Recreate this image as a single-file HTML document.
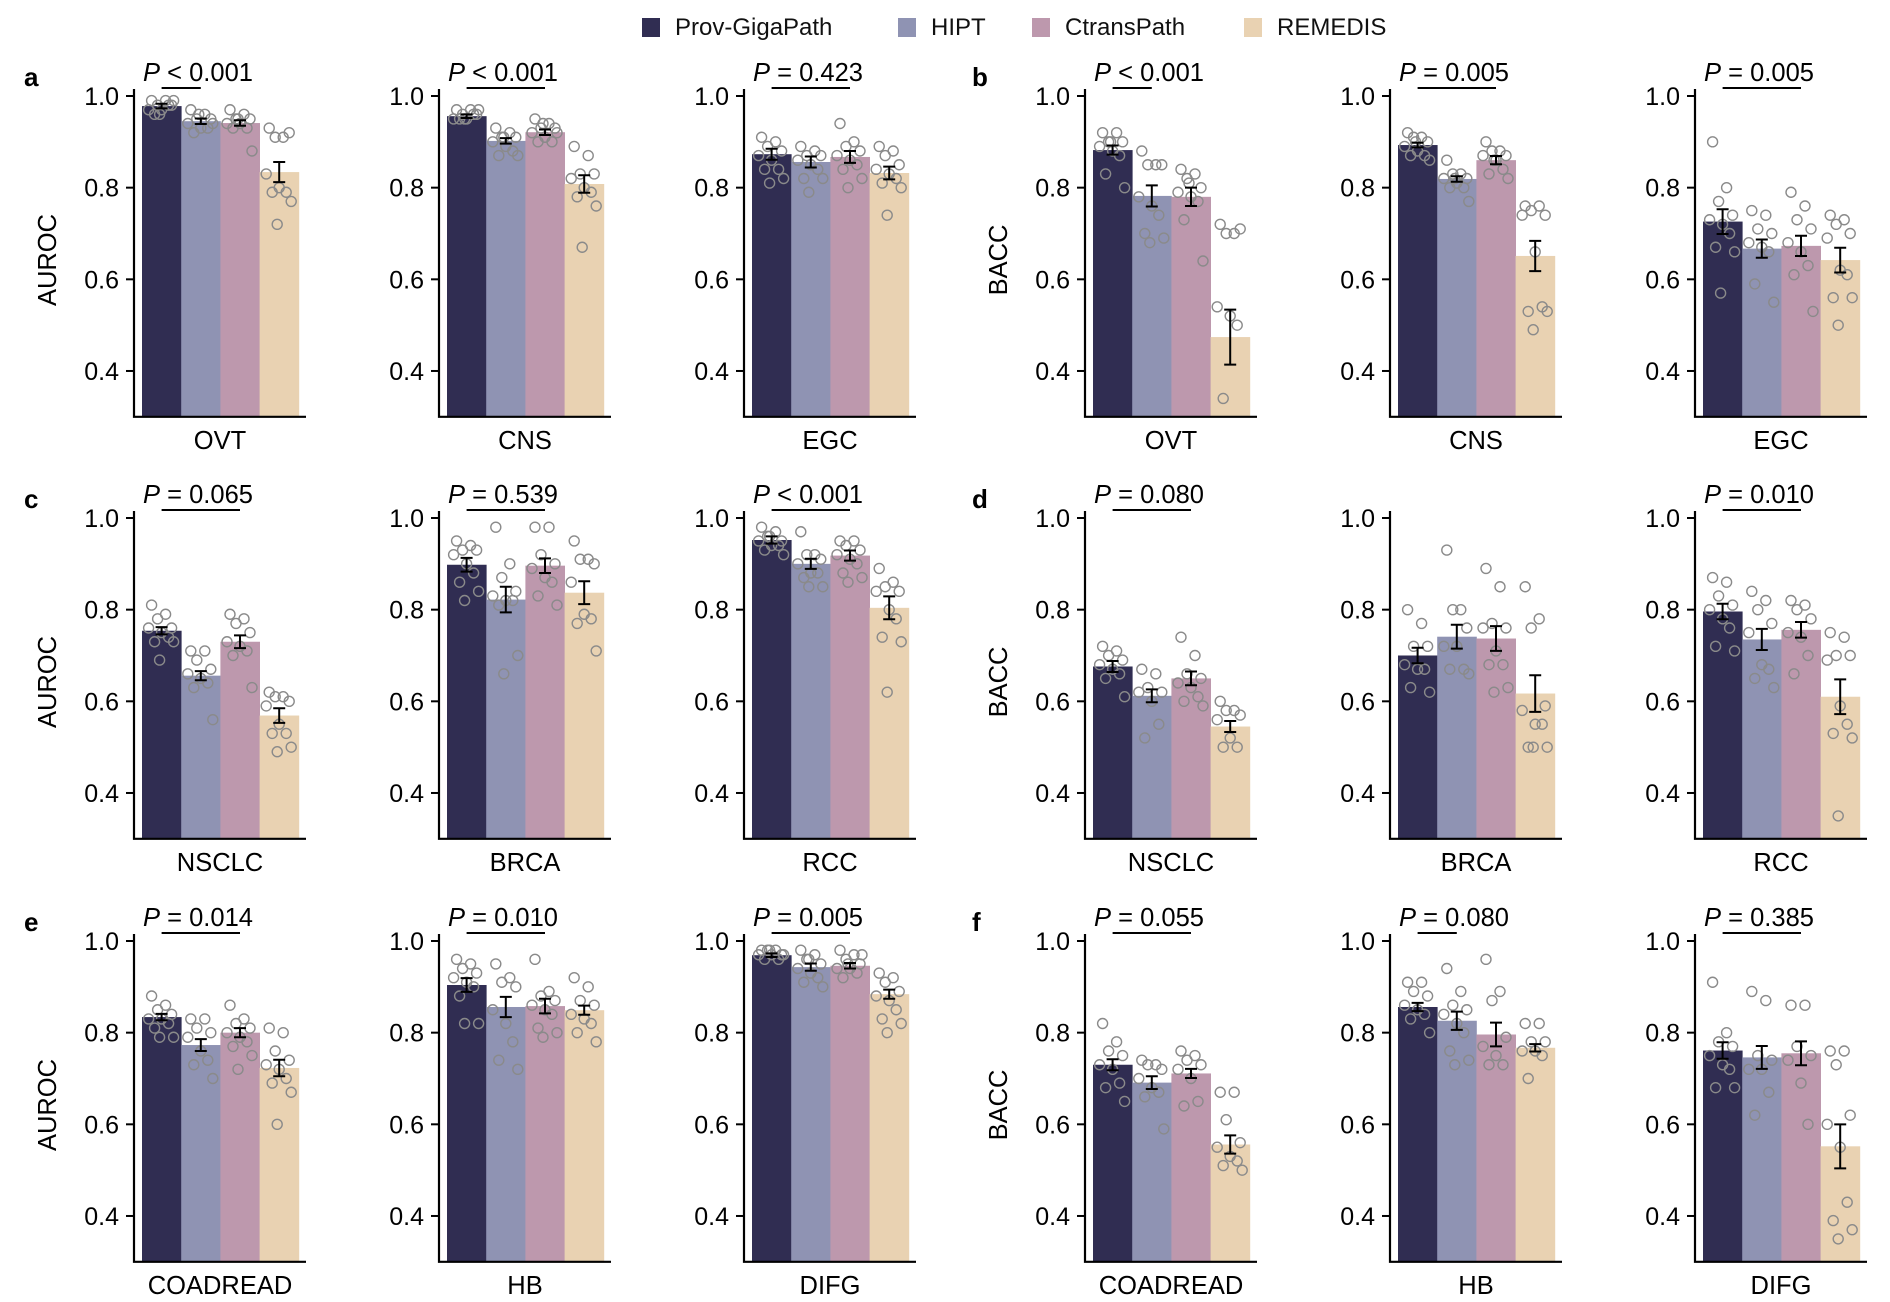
<!DOCTYPE html>
<html><head><meta charset="utf-8"><style>
html,body{margin:0;padding:0;background:#fff;}
svg{display:block;font-family:"Liberation Sans",Arial,sans-serif;}
</style></head><body>
<svg id="chart" width="1890" height="1302" viewBox="0 0 1890 1302">
<g id="legend"></g>
<g id="panels"></g>
</svg>
<script>
const models = ["Prov-GigaPath","HIPT","CtransPath","REMEDIS"];
const colors = ["#302d52","#8f93b3","#bd98ad","#e9d2b2"];
const tasks = ["OVT","CNS","EGC","OVT","CNS","EGC","NSCLC","BRCA","RCC","NSCLC","BRCA","RCC","COADREAD","HB","DIFG","COADREAD","HB","DIFG"];
const metrics = ["AUROC","AUROC","AUROC","BACC","BACC","BACC","AUROC","AUROC","AUROC","BACC","BACC","BACC","AUROC","AUROC","AUROC","BACC","BACC","BACC"];
const pvalues = ["< 0.001","< 0.001","= 0.423","< 0.001","= 0.005","= 0.005","= 0.065","= 0.539","< 0.001","= 0.080","","= 0.010","= 0.014","= 0.010","= 0.005","= 0.055","= 0.080","= 0.385"];
const pCompare = [1,2,2,1,2,2,2,2,2,2,0,2,2,2,2,2,1,2];
const panelLetters = {0:"a",3:"b",6:"c",9:"d",12:"e",15:"f"};
const means = [
 [0.978,0.945,0.941,0.834],[0.956,0.902,0.921,0.808],[0.873,0.856,0.867,0.832],
 [0.882,0.782,0.780,0.474],[0.893,0.819,0.860,0.651],[0.726,0.667,0.673,0.642],
 [0.754,0.656,0.730,0.569],[0.898,0.822,0.896,0.837],[0.952,0.900,0.918,0.804],
 [0.676,0.612,0.650,0.545],[0.700,0.741,0.737,0.617],[0.796,0.735,0.756,0.610],
 [0.834,0.773,0.800,0.723],[0.904,0.856,0.858,0.849],[0.969,0.943,0.946,0.884],
 [0.730,0.691,0.711,0.556],[0.856,0.826,0.796,0.767],[0.761,0.746,0.755,0.552]];
const errors = [
 [0.005,0.006,0.006,0.022],[0.004,0.006,0.006,0.019],[0.012,0.012,0.013,0.014],
 [0.010,0.023,0.020,0.060],[0.005,0.006,0.009,0.033],[0.027,0.020,0.022,0.027],
 [0.008,0.010,0.014,0.016],[0.015,0.028,0.016,0.025],[0.008,0.011,0.011,0.025],
 [0.012,0.014,0.015,0.012],[0.017,0.026,0.027,0.040],[0.017,0.023,0.017,0.038],
 [0.007,0.013,0.010,0.018],[0.015,0.022,0.016,0.010],[0.004,0.008,0.006,0.010],
 [0.012,0.014,0.010,0.020],[0.009,0.020,0.026,0.008],[0.018,0.025,0.026,0.048]];
const points = [
 [[.99,.99,.98,.98,.97,.97,.98,.96,.99,.96],[.97,.96,.95,.95,.94,.93,.93,.92,.94,.96],[.97,.96,.95,.95,.94,.94,.93,.93,.88,.95],[.93,.91,.91,.92,.83,.80,.79,.79,.77,.72]],
 [[.97,.97,.96,.96,.95,.95,.96,.95,.97,.95],[.93,.92,.91,.91,.90,.89,.88,.87,.87,.91],[.95,.94,.93,.93,.92,.91,.90,.90,.92,.94],[.89,.87,.83,.83,.82,.80,.79,.78,.76,.67]],
 [[.91,.90,.89,.88,.87,.86,.84,.84,.82,.81],[.89,.88,.87,.87,.86,.85,.84,.82,.82,.79],[.94,.90,.89,.88,.87,.86,.85,.84,.82,.80],[.89,.88,.87,.85,.84,.83,.82,.81,.80,.74]],
 [[.92,.92,.90,.90,.89,.88,.87,.83,.80,.90],[.88,.85,.85,.85,.78,.76,.74,.70,.69,.68],[.84,.83,.82,.80,.79,.78,.77,.73,.64,.81],[.72,.70,.70,.71,.54,.52,.50,.34]],
 [[.92,.91,.91,.90,.89,.88,.87,.87,.86,.90],[.86,.83,.83,.82,.82,.81,.80,.80,.77,.82],[.90,.88,.88,.87,.87,.86,.84,.83,.82,.86],[.76,.76,.75,.74,.74,.66,.54,.53,.53,.49]],
 [[.90,.80,.77,.74,.73,.72,.70,.67,.66,.57],[.75,.74,.71,.70,.68,.67,.66,.59,.55],[.79,.76,.73,.71,.68,.66,.63,.61,.53],[.74,.73,.72,.70,.69,.62,.61,.56,.56,.50]],
 [[.81,.79,.78,.76,.76,.75,.74,.73,.73,.69],[.71,.71,.69,.67,.66,.65,.64,.63,.56],[.79,.78,.77,.75,.73,.72,.71,.70,.63],[.62,.61,.61,.60,.59,.55,.53,.53,.50,.49]],
 [[.95,.94,.93,.93,.92,.90,.88,.86,.84,.82],[.98,.90,.87,.84,.83,.82,.82,.81,.70,.66],[.98,.98,.92,.90,.89,.87,.86,.83,.81],[.95,.91,.91,.90,.86,.79,.78,.77,.71]],
 [[.98,.97,.96,.95,.95,.94,.94,.93,.92,.96],[.97,.92,.92,.91,.90,.88,.88,.87,.85,.85],[.95,.95,.94,.93,.92,.91,.90,.88,.87,.86],[.89,.86,.85,.84,.84,.80,.78,.74,.73,.62]],
 [[.72,.71,.70,.69,.68,.67,.66,.65,.61],[.67,.66,.63,.62,.62,.60,.55,.52],[.74,.70,.66,.65,.64,.63,.61,.60,.59],[.60,.58,.58,.57,.56,.52,.50,.50]],
 [[.80,.77,.72,.72,.68,.67,.67,.63,.62],[.93,.80,.80,.76,.72,.72,.67,.67,.66],[.89,.85,.77,.76,.76,.71,.68,.68,.63,.62],[.85,.78,.76,.59,.58,.55,.55,.50,.50,.50]],
 [[.87,.86,.83,.81,.80,.78,.76,.72,.71],[.84,.82,.80,.77,.75,.68,.67,.65,.63],[.82,.81,.80,.78,.75,.74,.70,.66],[.75,.74,.70,.70,.69,.59,.55,.53,.52,.35]],
 [[.88,.86,.85,.84,.83,.83,.82,.81,.79,.79],[.83,.83,.81,.80,.79,.76,.74,.73,.70],[.86,.83,.82,.81,.80,.79,.78,.77,.75,.72],[.81,.80,.76,.74,.73,.72,.70,.69,.67,.60]],
 [[.96,.95,.94,.93,.92,.91,.90,.88,.82,.82],[.95,.92,.91,.90,.85,.82,.78,.74,.72],[.96,.89,.88,.87,.86,.85,.84,.81,.80,.79],[.92,.90,.87,.86,.84,.83,.82,.80,.78]],
 [[.98,.98,.98,.97,.97,.97,.96,.96,.97,.98],[.98,.97,.96,.95,.94,.93,.92,.91,.90,.96],[.98,.97,.96,.95,.94,.94,.93,.92,.97,.95],[.93,.92,.91,.89,.88,.87,.85,.83,.82,.80]],
 [[.82,.78,.76,.75,.73,.72,.69,.68,.65],[.74,.73,.73,.72,.70,.68,.67,.66,.59],[.76,.75,.74,.73,.72,.70,.65,.64],[.67,.67,.61,.56,.55,.53,.52,.51,.50]],
 [[.91,.91,.89,.88,.86,.85,.84,.83,.80],[.94,.89,.86,.85,.84,.82,.80,.76,.74,.73],[.96,.89,.87,.79,.77,.75,.73,.73],[.82,.82,.78,.78,.76,.76,.75,.70]],
 [[.91,.80,.78,.77,.75,.73,.72,.68,.68],[.89,.87,.75,.74,.72,.72,.67,.62],[.86,.86,.77,.75,.74,.69,.60],[.76,.76,.73,.62,.60,.55,.43,.39,.37,.35]]];
const yTicks = [0.4,0.6,0.8,1.0];
const yTickLabels = ["0.4","0.6","0.8","1.0"];

const NS = "http://www.w3.org/2000/svg";
const svg = document.getElementById("chart");
function mk(tag, attrs, parent){const e=document.createElementNS(NS,tag);for(const k in attrs)e.setAttribute(k,attrs[k]);parent.appendChild(e);return e;}
const colX = [134,439,744,1085,1390,1695];
const rowTop = [96,518,941];
const PXU = 458.3, BW = 39.2, YMIN = 0.3;
const jitter = [-10,4,-4,10,-13,0,7,-7,12,-2];

const lg = document.getElementById("legend");
const legX = [642,898,1032,1244];
models.forEach((m,i)=>{
  const r = mk("rect",{x:legX[i],y:18,width:18,height:19,fill:colors[i]},lg);
  
  
  const t = mk("text",{x:legX[i]+33,y:35,"font-size":24,fill:"#111"},lg);
  t.textContent = m;
  
  
});

const panelsG = document.getElementById("panels");
tasks.forEach((task,p)=>{
  const row = Math.floor(p/6), col = p%6;
  const ax = colX[col], top = rowTop[row];
  const y = v => top + (1.0 - v)*PXU;
  const base = y(YMIN);
  const xb = i => ax + 8 + BW*i;
  const g = mk("g",{},panelsG);
  
  
  if(panelLetters[p]!==undefined){
    const lt = mk("text",{x:col===0?24:972,y:top-10,"font-size":26,"font-weight":"bold",fill:"#000"},g);
    lt.textContent = panelLetters[p];
    
    
  }
  means[p].forEach((m,i)=>{
    const r = mk("rect",{x:xb(i),y:y(m),width:BW+0.4,height:base-y(m),fill:colors[i]},g);
    
    
  });
  points[p].forEach((arr,i)=>{
    arr.forEach((v,k)=>{
      const c = mk("circle",{cx:xb(i)+BW/2+jitter[k%10],cy:y(v),r:5,fill:"none",stroke:"#8a8a8a","stroke-width":1.4},g);
      
      
    });
  });
  means[p].forEach((m,i)=>{
    const cx = xb(i)+BW/2, e = errors[p][i];
    const eg = mk("path",{d:`M${cx} ${y(m+e)}V${y(m-e)}M${cx-6} ${y(m+e)}H${cx+6}M${cx-6} ${y(m-e)}H${cx+6}`,stroke:"#000","stroke-width":2,fill:"none"},g);
    
    
  });
  const ya = mk("path",{d:`M${ax} ${top-7}V${base}H${ax+172}`,stroke:"#000","stroke-width":2.2,fill:"none"},g);
  
  
  yTicks.forEach((t,k)=>{
    mk("line",{x1:ax-8,x2:ax,y1:y(t),y2:y(t),stroke:"#000","stroke-width":2},g);
    const tl = mk("text",{x:ax-15,y:y(t)+9,"font-size":25,"text-anchor":"end",fill:"#000"},g);
    tl.textContent = yTickLabels[k];
    
    
  });
  const xl = mk("text",{x:ax+86,y:base+32,"font-size":25.5,"text-anchor":"middle",fill:"#000"},g);
  xl.textContent = task;
  
  
  if(col===0||col===3){
    const yl = mk("text",{x:0,y:0,"font-size":25.5,"text-anchor":"middle",fill:"#000",transform:`translate(${ax-78},${top+164}) rotate(-90)`},g);
    yl.textContent = metrics[p];
    
    
  }
  if(pvalues[p]){
    const x1 = xb(0)+BW/2, x2 = xb(pCompare[p])+BW/2;
    const pl = mk("line",{x1:x1,x2:x2,y1:top-8,y2:top-8,stroke:"#000","stroke-width":2},g);
    
    
    const pt = mk("text",{x:ax+64,y:top-15,"font-size":25.5,"text-anchor":"middle",fill:"#000"},g);
    const ip = mk("tspan",{"font-style":"italic"},pt); ip.textContent="P";
    const rest = mk("tspan",{},pt); rest.textContent=" "+pvalues[p];
    
    
  }
});
</script>
</body></html>
